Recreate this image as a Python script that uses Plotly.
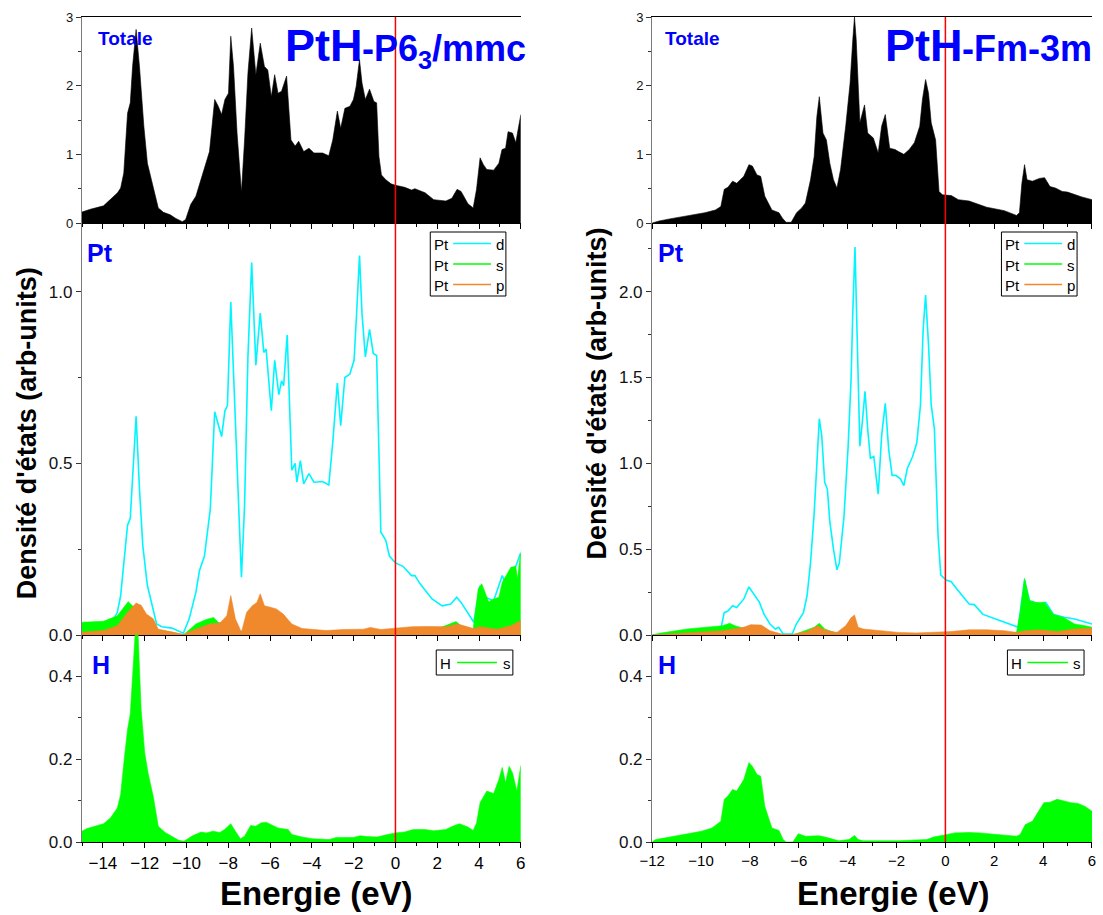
import plotly.graph_objects as go

# ---------------------------------------------------------------- data
# (energy eV, DOS)
# ---- left column : PtH-P6_3/mmc
tot_L = [(-15.0,0.16),(-14.6,0.20),(-13.97,0.25),(-13.64,0.34),(-13.3,0.44),(-13.15,0.51),(-13.0,0.73),
         (-12.82,1.6),(-12.69,1.75),(-12.58,2.28),(-12.41,2.82),(-12.25,2.28),(-12.04,1.41),(-11.87,0.87),
         (-11.68,0.63),(-11.5,0.44),(-11.35,0.22),(-11.1,0.155),(-10.78,0.12),(-10.53,0.07),(-10.2,0.02),
         (-10.04,0.05),(-9.8,0.27),(-9.55,0.39),(-9.3,0.63),(-9.06,0.87),(-8.9,1.04),(-8.81,1.31),(-8.65,1.80),
         (-8.48,1.70),(-8.32,1.58),(-8.16,1.80),(-7.99,1.89),(-7.88,2.72),(-7.75,2.28),(-7.58,1.31),(-7.37,0.45),
         (-7.22,1.21),(-7.06,2.18),(-6.88,2.84),(-6.68,2.16),(-6.47,2.62),(-6.27,2.28),(-6.11,2.23),(-5.94,1.84),
         (-5.78,2.16),(-5.62,1.89),(-5.45,1.92),(-5.21,2.14),(-5.0,1.21),(-4.8,1.12),(-4.63,1.19),(-4.39,1.04),
         (-4.14,1.09),(-3.9,1.02),(-3.49,1.02),(-3.19,0.98),(-3.0,1.21),(-2.78,1.63),(-2.62,1.38),(-2.42,1.67),
         (-2.18,1.70),(-2.01,1.80),(-1.88,1.99),(-1.72,2.38),(-1.6,2.04),(-1.44,1.80),(-1.24,1.95),(-1.03,1.77),
         (-0.9,1.75),(-0.79,0.97),(-0.67,0.70),(-0.46,0.63),(-0.21,0.57),(0.0,0.55),(0.44,0.52),(0.77,0.48),
         (0.93,0.50),(1.42,0.44),(1.83,0.34),(2.41,0.32),(2.7,0.36),(2.95,0.49),(3.14,0.46),(3.47,0.28),
         (3.72,0.22),(3.88,0.49),(4.05,0.95),(4.21,0.85),(4.37,0.78),(4.7,0.77),(4.95,0.87),(5.1,1.07),
         (5.27,1.09),(5.39,1.33),(5.6,1.31),(5.76,1.17),(5.84,1.31),(5.97,1.58),(6.0,1.58)]

ptd_L = [(-15.0,0.03),(-14.0,0.035),(-13.5,0.045),(-13.31,0.066),(-13.15,0.115),(-12.98,0.23),(-12.82,0.32),
         (-12.69,0.34),(-12.58,0.46),(-12.41,0.637),(-12.25,0.425),(-12.09,0.26),(-11.87,0.144),(-11.68,0.095),
         (-11.43,0.032),(-11.18,0.024),(-10.7,0.02),(-10.15,0.005),(-9.87,0.047),(-9.55,0.124),(-9.38,0.187),
         (-9.14,0.23),(-8.86,0.367),(-8.65,0.65),(-8.32,0.578),(-8.16,0.653),(-8.04,0.668),(-7.88,0.97),
         (-7.66,0.60),(-7.37,0.168),(-7.22,0.377),(-7.06,0.81),(-6.88,1.085),(-6.68,0.786),(-6.47,0.938),
         (-6.3,0.823),(-6.19,0.833),(-5.94,0.653),(-5.78,0.80),(-5.58,0.70),(-5.45,0.74),(-5.35,0.726),
         (-5.18,0.874),(-4.96,0.48),(-4.8,0.50),(-4.72,0.445),(-4.55,0.508),(-4.39,0.44),(-4.14,0.47),
         (-3.9,0.445),(-3.49,0.447),(-3.19,0.437),(-3.0,0.561),(-2.78,0.734),(-2.62,0.61),(-2.42,0.75),
         (-2.18,0.76),(-1.98,0.80),(-1.85,0.946),(-1.72,1.105),(-1.6,0.936),(-1.44,0.81),(-1.24,0.89),
         (-1.06,0.82),(-0.9,0.814),(-0.7,0.30),(-0.46,0.275),(-0.29,0.23),(0.0,0.21),(0.36,0.20),(0.77,0.173),
         (0.93,0.173),(1.18,0.149),(1.75,0.105),(2.24,0.085),(2.65,0.09),(2.93,0.11),(3.14,0.095),(3.75,0.037),
         (4.05,0.144),(4.29,0.11),(4.7,0.10),(5.11,0.173),(5.35,0.139),(5.68,0.187),(5.98,0.24),(6.0,0.24)]

pts_L = [(-15.0,0.037),(-14.5,0.038),(-13.97,0.04),(-13.31,0.056),(-12.98,0.08),(-12.79,0.097),(-12.58,0.085),
         (-12.41,0.07),(-12.17,0.06),(-11.9,0.045),(-11.6,0.03),(-11.35,0.015),(-10.7,0.008),(-10.15,0.0),
         (-9.55,0.032),(-9.06,0.045),(-8.7,0.051),(-8.48,0.037),(-8.0,0.03),(-7.4,0.01),(-7.0,0.025),
         (-6.5,0.03),(-6.0,0.025),(-5.0,0.015),(-4.0,0.01),(-2.0,0.01),(0.0,0.012),(1.0,0.015),(2.0,0.018),
         (2.9,0.039),(3.14,0.027),(3.72,0.017),(3.96,0.134),(4.13,0.149),(4.46,0.097),(4.7,0.105),(4.95,0.11),
         (5.11,0.153),(5.35,0.18),(5.52,0.197),(5.76,0.20),(5.84,0.163),(5.98,0.236),(6.0,0.236)]

ptp_L = [(-15.0,0.008),(-13.97,0.013),(-13.31,0.027),(-12.82,0.066),(-12.41,0.093),(-12.17,0.087),(-11.92,0.061),
         (-11.59,0.047),(-11.35,0.017),(-10.7,0.01),(-10.15,0.002),(-9.55,0.017),(-8.89,0.032),(-8.4,0.035),
         (-8.07,0.056),(-7.88,0.115),(-7.66,0.047),(-7.37,0.008),(-7.12,0.066),(-6.85,0.085),(-6.63,0.095),
         (-6.47,0.12),(-6.27,0.085),(-5.94,0.08),(-5.7,0.076),(-5.37,0.061),(-4.96,0.032),(-4.47,0.019),
         (-3.32,0.013),(-2.5,0.016),(-1.52,0.017),(-1.2,0.022),(-0.7,0.016),(0.0,0.02),(0.77,0.024),
         (1.59,0.025),(2.41,0.024),(2.98,0.032),(3.72,0.019),(4.05,0.024),(4.87,0.017),(5.52,0.027),
         (5.98,0.042),(6.0,0.042)]

hs_L = [(-15.0,0.026),(-14.79,0.032),(-13.97,0.044),(-13.64,0.058),(-13.31,0.082),(-13.15,0.115),(-12.98,0.20),
        (-12.82,0.272),(-12.69,0.309),(-12.58,0.40),(-12.46,0.50),(-12.33,0.52),(-12.17,0.32),(-12.0,0.216),
        (-11.84,0.167),(-11.59,0.11),(-11.35,0.038),(-11.02,0.023),(-10.7,0.014),(-10.37,0.004),(-10.12,0.002),
        (-9.71,0.015),(-9.3,0.024),(-9.06,0.022),(-8.73,0.026),(-8.4,0.023),(-8.16,0.031),(-7.88,0.044),
        (-7.66,0.026),(-7.42,0.008),(-7.22,0.014),(-6.93,0.04),(-6.68,0.038),(-6.44,0.046),(-6.19,0.048),
        (-5.94,0.042),(-5.62,0.034),(-5.13,0.03),(-4.96,0.018),(-4.47,0.012),(-3.98,0.008),(-3.16,0.006),
        (-2.83,0.011),(-2.01,0.011),(-1.69,0.015),(-1.36,0.013),(-0.87,0.012),(-0.38,0.018),(0.0,0.022),
        (0.44,0.024),(0.85,0.03),(1.42,0.03),(1.83,0.027),(2.41,0.03),(2.73,0.038),(3.06,0.044),(3.47,0.036),
        (3.72,0.028),(3.88,0.046),(4.05,0.095),(4.37,0.123),(4.7,0.117),(4.95,0.151),(5.11,0.18),(5.27,0.143),
        (5.44,0.183),(5.6,0.167),(5.81,0.123),(5.98,0.185),(6.0,0.185)]

# ---- right column : PtH-Fm-3m
tot_R = [(-12.0,0.0),(-11.71,0.03),(-11.28,0.06),(-10.56,0.10),(-9.84,0.15),(-9.41,0.19),(-9.19,0.24),
         (-9.05,0.49),(-8.9,0.52),(-8.71,0.61),(-8.54,0.58),(-8.25,0.68),(-8.04,0.85),(-7.9,0.83),(-7.71,0.70),
         (-7.56,0.68),(-7.39,0.39),(-7.1,0.19),(-6.81,0.15),(-6.67,0.07),(-6.52,0.01),(-6.31,0.01),(-6.09,0.15),
         (-5.88,0.22),(-5.73,0.29),(-5.52,0.63),(-5.37,0.97),(-5.26,1.55),(-5.16,1.84),(-5.01,1.31),(-4.87,1.21),
         (-4.73,0.87),(-4.58,0.63),(-4.44,0.51),(-4.29,0.78),(-4.08,1.41),(-3.9,2.04),(-3.79,2.67),(-3.72,3.0),
         (-3.65,2.67),(-3.5,1.46),(-3.31,1.72),(-3.18,1.31),(-2.95,1.24),(-2.75,1.02),(-2.61,1.41),(-2.46,1.58),
         (-2.28,1.09),(-2.06,1.07),(-1.92,1.04),(-1.7,1.0),(-1.48,1.07),(-1.27,1.17),(-1.05,1.41),(-0.94,1.80),
         (-0.81,2.09),(-0.69,1.89),(-0.58,1.46),(-0.4,1.21),(-0.26,0.46),(-0.12,0.41),(0.24,0.40),(0.53,0.34),
         (0.97,0.32),(1.33,0.28),(1.69,0.23),(2.41,0.18),(2.91,0.11),(3.03,0.15),(3.13,0.58),(3.24,0.85),
         (3.34,0.63),(3.56,0.61),(3.85,0.65),(4.06,0.66),(4.28,0.53),(4.5,0.51),(4.78,0.46),(5.0,0.45),
         (5.29,0.41),(5.58,0.38),(6.0,0.34)]

ptd_R = [(-12.0,0.0),(-10.5,0.01),(-9.2,0.03),(-9.05,0.13),(-8.9,0.14),(-8.71,0.17),(-8.54,0.16),(-8.25,0.21),
         (-8.04,0.28),(-7.82,0.23),(-7.61,0.19),(-7.42,0.12),(-7.18,0.064),(-6.96,0.035),(-6.82,0.045),
         (-6.64,0.006),(-6.27,0.006),(-6.1,0.064),(-5.81,0.13),(-5.66,0.23),(-5.52,0.42),(-5.37,0.71),(-5.26,1.0),
         (-5.16,1.26),(-5.06,1.16),(-4.94,0.89),(-4.83,0.85),(-4.73,0.66),(-4.58,0.50),(-4.44,0.38),(-4.34,0.42),
         (-4.15,0.69),(-3.98,1.10),(-3.86,1.49),(-3.79,1.88),(-3.7,2.26),(-3.62,1.79),(-3.5,1.10),(-3.4,1.24),
         (-3.29,1.42),(-3.18,1.20),(-3.07,1.03),(-2.93,1.04),(-2.75,0.82),(-2.61,1.16),(-2.46,1.35),(-2.32,1.08),
         (-2.18,0.93),(-2.03,0.93),(-1.84,0.91),(-1.7,0.87),(-1.56,0.97),(-1.34,1.04),(-1.17,1.12),(-1.02,1.34),
         (-0.91,1.78),(-0.81,1.98),(-0.69,1.69),(-0.58,1.34),(-0.45,1.20),(-0.3,0.58),(-0.19,0.35),(0.03,0.32),
         (0.24,0.31),(0.46,0.27),(0.68,0.23),(0.97,0.18),(1.18,0.177),(1.54,0.12),(1.97,0.097),(2.41,0.074),
         (2.91,0.045),(2.98,0.045),(3.24,0.32),(3.44,0.20),(3.85,0.18),(4.11,0.19),(4.42,0.12),(4.86,0.103),
         (5.29,0.093),(5.72,0.074),(6.0,0.064)]

pts_R = [(-12.0,0.0),(-11.71,0.01),(-10.56,0.035),(-9.84,0.045),(-9.12,0.054),(-8.83,0.068),(-8.61,0.054),
         (-8.25,0.04),(-7.39,0.015),(-6.52,0.0),(-6.24,0.0),(-5.95,0.015),(-5.37,0.045),(-5.16,0.068),
         (-4.94,0.035),(-4.5,0.012),(-3.0,0.008),(-1.0,0.008),(0.0,0.01),(2.0,0.012),(2.91,0.015),(3.06,0.13),
         (3.24,0.33),(3.44,0.20),(3.7,0.19),(4.06,0.19),(4.42,0.12),(4.86,0.10),(5.29,0.064),(5.72,0.054),
         (6.0,0.045)]

ptp_R = [(-12.0,0.0),(-10.56,0.012),(-9.12,0.025),(-8.25,0.045),(-7.97,0.06),(-7.54,0.058),(-7.18,0.025),
         (-6.67,0.004),(-6.24,0.004),(-5.66,0.02),(-5.23,0.054),(-5.01,0.035),(-4.8,0.025),(-4.44,0.015),
         (-4.08,0.054),(-3.86,0.10),(-3.72,0.117),(-3.57,0.045),(-3.36,0.035),(-2.64,0.025),(-1.92,0.015),
         (-1.2,0.012),(-0.48,0.015),(0.24,0.02),(0.97,0.03),(1.69,0.03),(2.41,0.025),(2.91,0.015),(3.27,0.025),
         (3.85,0.03),(4.57,0.02),(5.29,0.035),(6.0,0.04)]

hs_R = [(-12.0,0.0),(-11.86,0.006),(-11.28,0.012),(-10.56,0.02),(-9.98,0.026),(-9.55,0.034),(-9.19,0.05),
        (-9.05,0.103),(-8.9,0.111),(-8.71,0.127),(-8.54,0.123),(-8.25,0.151),(-8.04,0.192),(-7.9,0.183),
        (-7.71,0.163),(-7.56,0.159),(-7.39,0.086),(-7.1,0.034),(-6.81,0.028),(-6.64,0.006),(-6.52,0.0),
        (-6.24,0.0),(-6.02,0.02),(-5.73,0.014),(-5.16,0.015),(-4.8,0.01),(-4.37,0.003),(-3.94,0.006),
        (-3.72,0.016),(-3.57,0.006),(-3.36,0.003),(-1.92,0.003),(-0.76,0.006),(-0.48,0.012),(0.0,0.018),
        (0.39,0.022),(0.97,0.023),(1.4,0.022),(2.12,0.018),(2.91,0.014),(3.06,0.018),(3.27,0.042),(3.56,0.05),
        (3.78,0.07),(4.03,0.095),(4.28,0.096),(4.57,0.103),(4.86,0.099),(5.14,0.095),(5.43,0.093),(5.72,0.086),
        (6.0,0.074)]

x_range_L = [-15, 6]
x_range_R = [-12, 6]
title_head = "PtH"
title_tails = ["-P6<sub>3</sub>/mmc", "-Fm-3m"]
panel_labels = ["Totale", "Pt", "H"]
legend_pt = [("Pt", "d"), ("Pt", "s"), ("Pt", "p")]
legend_h = [("H", "s")]

# ---------------------------------------------------------------- styling
FONT = "Liberation Sans, Arial, Helvetica, sans-serif"
W, H = 1103, 915
ML, MR, MT, MB = 82, 6, 17, 73
PW, PH = W - ML - MR, H - MT - MB
C_D, C_S, C_P = "#00f5ff", "#00ff00", "#f0882c"
BLUE = "#0000ff"


def px(x):
    return (x - ML) / PW


def py(y):
    return (H - MB - y) / PH


def xy(pairs):
    return [a for a, _ in pairs], [b for _, b in pairs]


fig = go.Figure()


def fill(pairs, xa, ya, color, lw=0.6):
    x, y = xy(pairs)
    fig.add_trace(go.Scatter(x=x, y=y, mode="lines", fill="tozeroy", fillcolor=color,
                             line=dict(color=color, width=lw), xaxis=xa, yaxis=ya,
                             showlegend=False, hoverinfo="skip"))


def line(pairs, xa, ya, color, lw=1.6):
    x, y = xy(pairs)
    fig.add_trace(go.Scatter(x=x, y=y, mode="lines", line=dict(color=color, width=lw),
                             xaxis=xa, yaxis=ya, showlegend=False, hoverinfo="skip"))


# left column
fill(tot_L, "x", "y", "black")
line(ptd_L, "x2", "y2", C_D)
fill(pts_L, "x2", "y2", C_S)
fill(ptp_L, "x2", "y2", C_P)
fill(hs_L, "x3", "y3", C_S)
# right column
fill(tot_R, "x4", "y4", "black")
line(ptd_R, "x5", "y5", C_D)
fill(pts_R, "x5", "y5", C_S)
fill(ptp_R, "x5", "y5", C_P)
fill(hs_R, "x6", "y6", C_S)

dom_xL = [px(82), px(523)]
dom_xR = [px(655), px(1097)]
dom_top = [py(223), 1.0]
dom_mid = [py(635), py(223)]
dom_bot = [0.0, py(635)]


def xax(domain, anchor, rng, labels, fs, mirror=False):
    return dict(domain=domain, anchor=anchor, range=rng, showline=True, linecolor="black",
                linewidth=1.4, ticks="outside", ticklen=5, tickwidth=1, tickcolor="black",
                tick0=0, dtick=2, minor=dict(ticks="outside", ticklen=3, dtick=1, tickcolor="black"),
                showticklabels=labels, tickfont=dict(family=FONT, size=fs, color="black"),
                showgrid=False, zeroline=False, mirror=mirror, fixedrange=True)


def yax(domain, anchor, rng, dtick, mdtick, fmt, fs):
    return dict(domain=domain, anchor=anchor, range=rng, showline=True, linecolor="#7a7a7a",
                linewidth=1.4, ticks="outside", ticklen=5, tickwidth=1, tickcolor="#333",
                tick0=0, dtick=dtick, minor=dict(ticks="outside", ticklen=3, dtick=mdtick, tickcolor="#333"),
                tickformat=fmt, tickfont=dict(family=FONT, size=fs, color="#111"),
                showgrid=False, zeroline=False, fixedrange=True)


fig.update_layout(
    width=W, height=H, margin=dict(l=ML, r=MR, t=MT, b=MB),
    paper_bgcolor="white", plot_bgcolor="white", showlegend=False,
    font=dict(family=FONT, color="black"),
    xaxis=xax(dom_xL, "y", x_range_L, False, 17, mirror=True),
    xaxis2=xax(dom_xL, "y2", x_range_L, False, 17),
    xaxis3=xax(dom_xL, "y3", x_range_L, True, 17),
    xaxis4=xax(dom_xR, "y4", x_range_R, False, 15, mirror=True),
    xaxis5=xax(dom_xR, "y5", x_range_R, False, 15),
    xaxis6=xax(dom_xR, "y6", x_range_R, True, 15),
    yaxis=yax(dom_top, "x", [0, 3.001], 1, 0.5, "d", 13),
    yaxis2=yax(dom_mid, "x2", [0, 1.2], 0.5, 0.25, ".1f", 17),
    yaxis3=yax(dom_bot, "x3", [0, 0.5], 0.2, 0.1, ".1f", 17),
    yaxis4=yax(dom_top, "x4", [0, 3.001], 1, 0.5, "d", 13),
    yaxis5=yax(dom_mid, "x5", [0, 2.4], 0.5, 0.25, ".1f", 17),
    yaxis6=yax(dom_bot, "x6", [0, 0.5], 0.2, 0.1, ".1f", 17),
)

shapes = []
# Fermi level lines
for xr in ("x", "x4"):
    shapes.append(dict(type="line", xref=xr, yref="paper", x0=0, x1=0, y0=0, y1=1,
                       line=dict(color="#ff0000", width=1.5)))

ann = []


def text(x, y, s, size, color="black", bold=False, xanchor="center", yanchor="middle", angle=0):
    ann.append(dict(x=px(x), y=py(y), xref="paper", yref="paper", text=("<b>%s</b>" % s) if bold else s,
                    showarrow=False, xanchor=xanchor, yanchor=yanchor, textangle=angle,
                    font=dict(family=FONT, size=size, color=color)))


def legend_box(x0, x1, y0, y1, rows, row_y, colors, lx0, lx1, tx_left, tx_right):
    shapes.append(dict(type="rect", xref="paper", yref="paper", x0=px(x0), x1=px(x1), y0=py(y1), y1=py(y0),
                       line=dict(color="black", width=1), fillcolor="white"))
    for (a, b), yy, c in zip(rows, row_y, colors):
        shapes.append(dict(type="line", xref="paper", yref="paper", x0=px(lx0), x1=px(lx1),
                           y0=py(yy), y1=py(yy), line=dict(color=c, width=1.5)))
        text(tx_left, yy + 1, a, 15, xanchor="left")
        text(tx_right, yy + 1, b, 15, xanchor="left")


pt_rows_y = [243.5, 264, 284.5]
legend_box(432, 508, 232, 296, legend_pt, pt_rows_y, [C_D, C_S, C_P], 455, 493, 434, 496)
legend_box(1006, 1082, 232, 296, legend_pt, pt_rows_y, [C_D, C_S, C_P], 1029, 1067, 1008, 1070)
legend_box(438, 515, 650, 675, legend_h, [662.5], [C_S], 459, 499, 440, 503)
legend_box(1012, 1089, 650, 675, legend_h, [662.5], [C_S], 1032, 1073, 1014, 1076)

# panel labels
for (xl, xr_), (lbl, yy, fs) in zip([(126, 696), (100.5, 674), (101.5, 669.5)],
                                      [(panel_labels[0], 38.5, 19), (panel_labels[1], 253, 25),
                                       (panel_labels[2], 665, 25)]):
    text(xl, yy, lbl, fs, BLUE, True)
    text(xr_, yy, lbl, fs, BLUE, True)

# big titles: "PtH" large, remainder smaller, sharing a baseline
BASE = 59
HEAD_FS, TAIL_FS = 45, 36
for x0, tail in zip([284, 887], title_tails):
    ann.append(dict(x=px(x0), y=py(BASE - 0.905 * HEAD_FS), xref="paper", yref="paper",
                    text="<b>%s</b>" % title_head, showarrow=False, xanchor="left", yanchor="top",
                    font=dict(family=FONT, size=HEAD_FS, color=BLUE)))
    ann.append(dict(x=px(x0 + 1.722 * HEAD_FS), y=py(BASE - 0.905 * TAIL_FS), xref="paper", yref="paper",
                    text="<b>%s</b>" % tail, showarrow=False, xanchor="left", yanchor="top",
                    font=dict(family=FONT, size=TAIL_FS, color=BLUE)))

# axis titles
text(27, 433, "Densité d'états (arb-units)", 27, bold=True, angle=-90)
text(600, 393, "Densité d'états (arb-units)", 27, bold=True, angle=-90)
text(318, 893, "Energie (eV)", 33, bold=True)
text(898, 893, "Energie (eV)", 33, bold=True)

fig.update_layout(shapes=shapes, annotations=ann)
fig.write_html("out.html")
